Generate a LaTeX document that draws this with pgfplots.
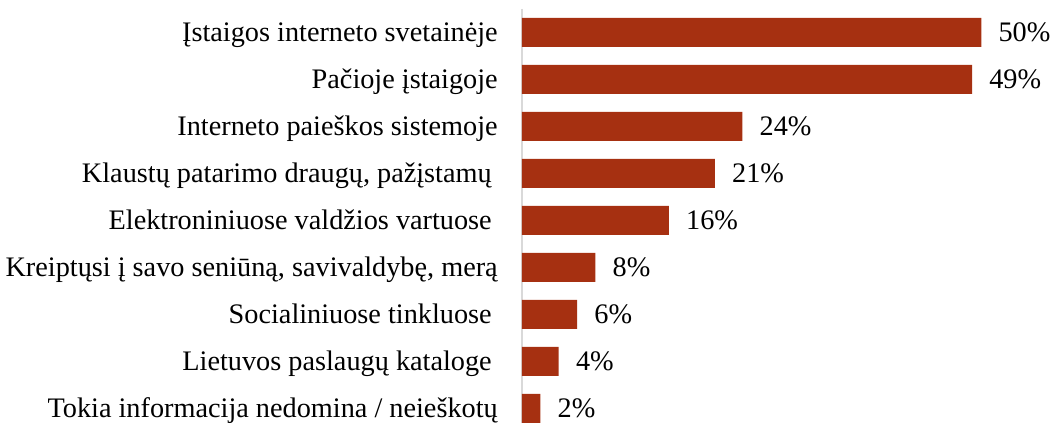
\documentclass[border=0pt]{standalone}
\usepackage{pgfplots}
\pgfplotsset{compat=1.18}
\usepackage{fontspec}
\setmainfont{Liberation Serif}
\definecolor{barred}{RGB}{166,48,17}
\definecolor{axisgray}{RGB}{217,217,217}
\newlength\px
\setlength\px{0.75pt}
% trailing space that some labels carry in the original
\newcommand\tsp{\hspace*{6\px}}
\begin{document}
\begin{tikzpicture}
\begin{axis}[
    name=ax, at={(0,0)}, anchor=south west,
    scale only axis, width=530\px, height=414\px,
    xbar, bar width=29\px,
    xmin=0, xmax=57.7,
    ymin=-0.5, ymax=8.31, y dir=reverse,
    axis x line=none, axis y line*=left,
    y axis line style={axisgray, line width=1.5\px},
    ytick={0,...,8}, major tick length=0pt, ytick style={draw=none},
    yticklabels={
        Įstaigos interneto svetainėje,
        Pačioje įstaigoje,
        Interneto paieškos sistemoje,
        {Klaustų patarimo draugų, pažįstamų\tsp},
        Elektroniniuose valdžios vartuose\tsp,
        {Kreiptųsi į savo seniūną, savivaldybę, merą},
        Socialiniuose tinkluose\tsp,
        Lietuvos paslaugų kataloge\tsp,
        Tokia informacija nedomina / neieškotų},
    yticklabel style={font=\fontsize{21.2pt}{25pt}\selectfont, anchor=base east,
        inner sep=0pt, xshift=-24\px, yshift=-9.3\px},
    clip=false,
    point meta=x,
    /pgf/number format/assume math mode=true,
    nodes near coords={\pgfmathprintnumber{\pgfplotspointmeta}\%},
    nodes near coords style={font=\fontsize{21.2pt}{25pt}\selectfont, anchor=base west,
        inner sep=0pt, xshift=17\px, yshift=-9.3\px},
]
\addplot[fill=barred, draw=none] coordinates {
    (50,0) (49,1) (24,2) (21,3) (16,4) (8,5) (6,6) (4,7) (2,8)
};
\end{axis}
\pgfresetboundingbox
\path[use as bounding box] ([xshift=-522\px]ax.south west) rectangle ([yshift=9\px]ax.north east);
\end{tikzpicture}
\end{document}
